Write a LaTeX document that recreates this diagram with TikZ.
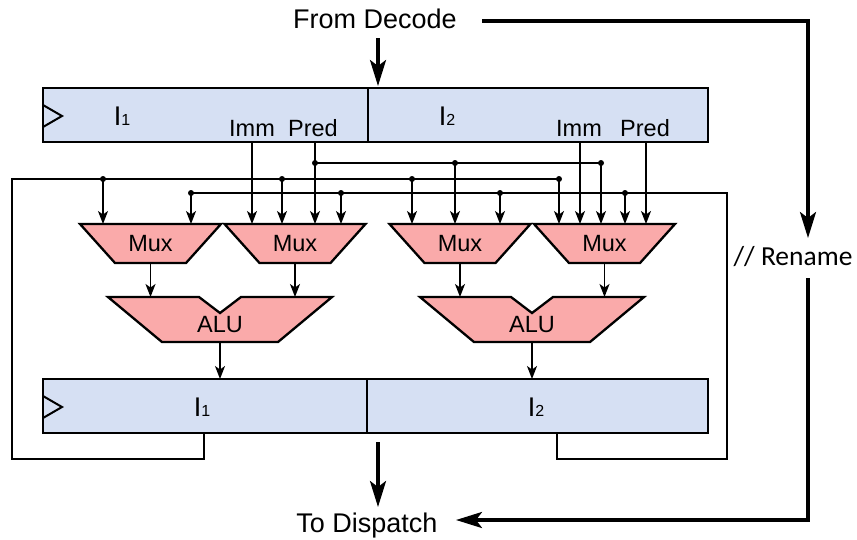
\documentclass[tikz,border=0pt]{standalone}
\usepackage{fontspec}
\setmainfont{Liberation Sans}
\newfontfamily\calib{Carlito}
\usetikzlibrary{arrows.meta}
\definecolor{regfill}{RGB}{214,224,243}
\definecolor{muxfill}{RGB}{250,170,170}
\newcommand\regsub[1]{{\fontsize{27}{27}\selectfont I}{\fontsize{16}{16}\selectfont #1}}
\begin{document}
\begin{tikzpicture}[x=1pt,y=-1pt,
 wire/.style={line width=1.3pt},
 feed/.style={wire,-{Stealth[length=13pt,width=10pt,inset=3.5pt]}},
 bigarrow/.style={line width=3.3pt,-{Stealth[length=26pt,width=16pt,inset=6pt]}},
 regbox/.style={draw,line width=2.3pt,fill=regfill,minimum width=665pt,minimum height=54pt,anchor=north west,inner sep=0pt,outer sep=0pt},
 muxbox/.style={draw,line width=2.3pt,fill=muxfill,line join=miter},
 clock/.style={line width=2pt},
 lab/.style={font=\fontsize{23.5}{23.5}\selectfont,inner sep=0pt},
 big/.style={font=\fontsize{27}{27}\selectfont,inner sep=0pt,anchor=base},
 junction/.style={circle,fill,inner sep=0pt,minimum size=6pt}]
\useasboundingbox (0,0) rectangle (857,539);
% registers
\node[regbox] (topreg) at (43,88) {};
\node[regbox] (botreg) at (43,379) {};
\draw[wire] (368,88) -- (368,142);
\draw[wire] (367,379) -- (367,433);
\draw[clock] (43,105) -- (62,116) -- (43,127);
\draw[clock] (43,396) -- (62,407) -- (43,418);
\node[inner sep=0pt] (i1top) at (122,116) {\regsub{1}};
\node[inner sep=0pt] (i2top) at (447,116) {\regsub{2}};
\node[inner sep=0pt] (i1bot) at (202,407) {\regsub{1}};
\node[inner sep=0pt] (i2bot) at (536,407) {\regsub{2}};
\node[lab] (imm1) at (252,128) {Imm};
\node[lab] (pred1) at (313,128) {Pred};
\node[lab] (imm2) at (579,128) {Imm};
\node[lab] (pred2) at (645,128) {Pred};
% muxes
\foreach \c/\n in {150.5/1,295/2,460/3,604.5/4}{
  \draw[muxbox] ({\c-70.5},224) -- ({\c+70.5},224) -- ({\c+35.5},263) -- ({\c-35.5},263) -- cycle;
  \node[lab] (mux\n) at (\c,244) {Mux};
  \draw[feed] (\c,263) -- (\c,297);
}
% ALUs
\foreach \c/\n in {220/1,532/2}{
  \draw[muxbox] ({\c-112},297) -- ({\c-21},297) -- (\c,313) -- ({\c+21},297) -- ({\c+112},297) -- ({\c+58},342) -- ({\c-58},342) -- cycle;
  \node[lab] (alu\n) at (\c,325) {ALU};
  \draw[feed] (\c,342) -- (\c,379);
}
% buses
\draw[wire] (315,163) -- (601,163);
\draw[wire] (204,433) -- (204,459) -- (12,459) -- (12,179) -- (559,179);
\draw[wire] (557,433) -- (557,459) -- (727,459) -- (727,193) -- (191,193);
\foreach \x in {252,315,580,646}{\draw[feed] (\x,142) -- (\x,224);}
\node[junction] at (315,163) {};
\foreach \x in {455,601}{\node[junction] at (\x,163) {}; \draw[feed] (\x,163) -- (\x,224);}
\foreach \x in {103,282,412,559}{\node[junction] at (\x,179) {}; \draw[feed] (\x,179) -- (\x,224);}
\foreach \x in {191,341,500,625}{\node[junction] at (\x,193) {}; \draw[feed] (\x,193) -- (\x,224);}
% big arrows
\node[big] (fromdec) at (375,28) {From Decode};
\draw[bigarrow] (378,38) -- (378,86);
\draw[bigarrow] (482,21) -- (808,21) -- (808,238);
\node[font=\calib\fontsize{27.5}{27.5}\selectfont,anchor=base,inner sep=0pt] (ren) at (793,265) {// Rename};
\draw[bigarrow] (808,278) -- (808,520) -- (456,520);
\draw[bigarrow] (378,442) -- (378,507);
\node[big] (todisp) at (367,532) {To Dispatch};
\end{tikzpicture}
\end{document}
